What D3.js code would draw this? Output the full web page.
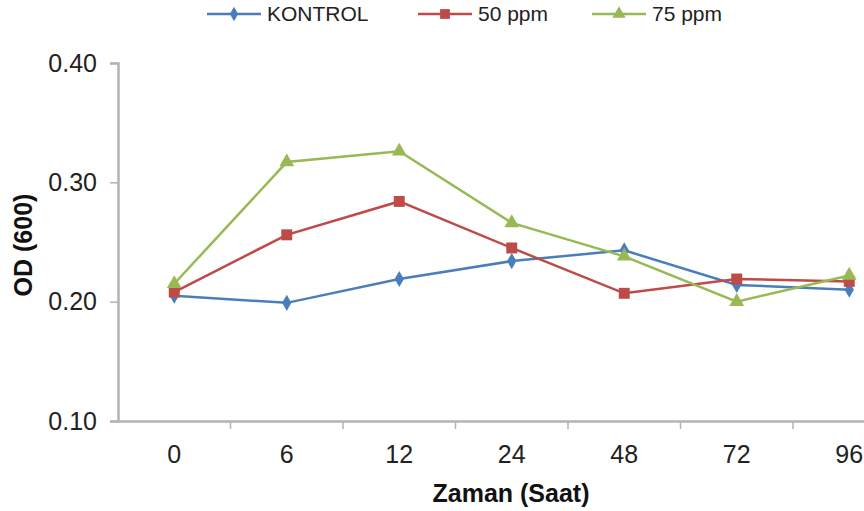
<!DOCTYPE html>
<html>
<head>
<meta charset="utf-8">
<script src="https://cdn.jsdelivr.net/npm/d3@7"></script>
<style>
  body { margin: 0; background: #fff; }
  svg { font-family: "Liberation Sans", Arial, sans-serif; }
</style>
</head>
<body>
<svg width="864" height="511"></svg>
<script>
const hours = ['0', '6', '12', '24', '48', '72', '96'];
const kontrol = [0.205, 0.199, 0.219, 0.234, 0.243, 0.214, 0.210];
const ppm50 = [0.208, 0.256, 0.284, 0.245, 0.207, 0.219, 0.217];
const ppm75 = [0.215, 0.317, 0.326, 0.266, 0.238, 0.200, 0.222];
const yTicks = [0.10, 0.20, 0.30, 0.40];

const series = [
  {name: 'KONTROL', values: kontrol, color: '#4a7ebb', shape: d3.symbolDiamond, size: 75},
  {name: '50 ppm', values: ppm50, color: '#be4b48', shape: d3.symbolSquare, size: 120},
  {name: '75 ppm', values: ppm75, color: '#98b954', shape: d3.symbolTriangle, size: 95}
];

const svg = d3.select('svg');
const margin = {top: 63, left: 118};
const stepW = 112.5;
const chartWidth = stepW * hours.length;
const chartHeight = 421 - margin.top;
const chartArea = svg.append('g')
    .attr('transform', `translate(${margin.left},${margin.top})`);

const x = d3.scaleBand().domain(hours).range([0, chartWidth]);
const y = d3.scaleLinear().domain([0.10, 0.40]).range([chartHeight, 0]);

// y axis
const yAxis = chartArea.append('g')
    .call(d3.axisLeft(y).tickValues(yTicks).tickFormat(d3.format('.2f')).tickSize(8).tickPadding(13));
yAxis.select('.domain').attr('stroke', '#b3b3b3').attr('stroke-width', 2.5);
yAxis.selectAll('.tick line').attr('stroke', '#b3b3b3').attr('stroke-width', 1.5);
yAxis.selectAll('.tick text').attr('font-size', 25).attr('fill', '#222');

// x axis with tick marks between categories
const xAxis = chartArea.append('g')
    .attr('transform', `translate(0,${chartHeight})`)
    .call(d3.axisBottom(x).tickSize(0).tickPadding(24));
xAxis.select('.domain').attr('stroke', '#b3b3b3').attr('stroke-width', 2.5);
xAxis.selectAll('.tick text').attr('font-size', 25).attr('fill', '#222');
xAxis.selectAll('.sep')
    .data(hours.slice(1))
    .join('line')
    .attr('x1', d => x(d)).attr('x2', d => x(d))
    .attr('y1', 0).attr('y2', 8)
    .attr('stroke', '#b3b3b3').attr('stroke-width', 1.5);

// axis titles
svg.append('text')
    .attr('x', 511).attr('y', 502)
    .attr('text-anchor', 'middle')
    .attr('font-size', 25).attr('font-weight', 'bold').attr('fill', '#111')
    .text('Zaman (Saat)');
svg.append('text')
    .attr('transform', `translate(32,245) rotate(-90)`)
    .attr('text-anchor', 'middle')
    .attr('font-size', 25).attr('font-weight', 'bold').attr('fill', '#111')
    .text('OD (600)');

// lines and markers
const line = d3.line()
    .x((d, i) => x(hours[i]) + x.bandwidth() / 2)
    .y(d => y(d));

series.forEach(s => {
  chartArea.append('path')
      .datum(s.values)
      .attr('d', line)
      .attr('fill', 'none')
      .attr('stroke', s.color)
      .attr('stroke-width', 2.5);
  chartArea.selectAll(null)
      .data(s.values)
      .join('path')
      .attr('d', d3.symbol().type(s.shape).size(s.size))
      .attr('transform', (d, i) => `translate(${x(hours[i]) + x.bandwidth() / 2},${y(d)})`)
      .attr('fill', s.color);
});

// legend
const legendX = [207, 418, 592];
const legend = svg.append('g');
series.forEach((s, i) => {
  const g = legend.append('g').attr('transform', `translate(${legendX[i]},14)`);
  g.append('line').attr('x1', 0).attr('x2', 54).attr('y1', 0).attr('y2', 0)
      .attr('stroke', s.color).attr('stroke-width', 2.5);
  g.append('path').attr('d', d3.symbol().type(s.shape).size(s.size * 0.8))
      .attr('transform', 'translate(27,0)').attr('fill', s.color);
  g.append('text').attr('x', 60).attr('y', 7)
      .attr('font-size', 21).attr('fill', '#222')
      .text(s.name);
});
</script>
</body>
</html>
